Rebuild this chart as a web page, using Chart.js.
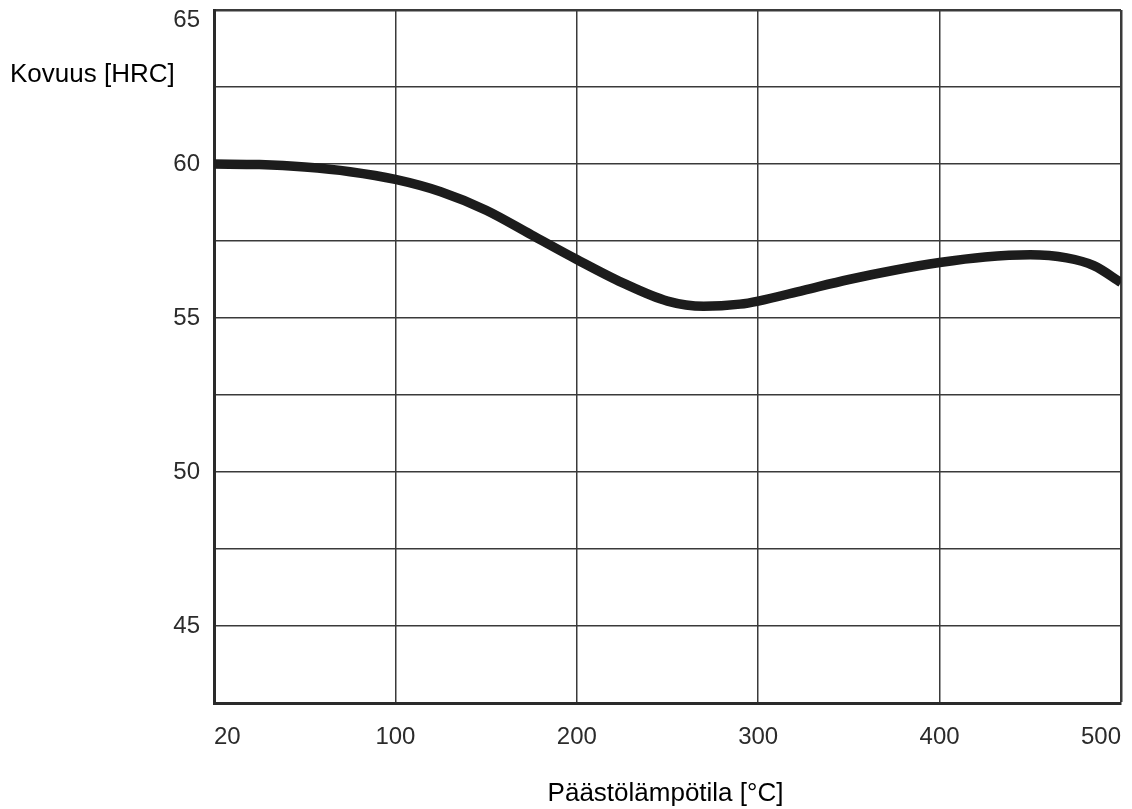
<!DOCTYPE html>
<html>
<head>
<meta charset="utf-8">
<title>Kovuus vs päästölämpötila</title>
<script src="https://cdn.jsdelivr.net/npm/chart.js@4/dist/chart.umd.min.js"></script>
<style>
  html, body { margin: 0; padding: 0; background: #ffffff; }
  #wrap { width: 1132px; height: 809px; position: relative; }
</style>
</head>
<body>
<div id="wrap"><canvas id="c" width="1132" height="809"></canvas></div>
<script>
// Axis position (0 is the left edge of the grid, labelled "20")
const temperatures = [0, 25, 50, 75, 100, 125, 150, 175, 200, 225, 250, 270, 290, 300, 325, 350, 375, 400, 425, 450, 470, 485, 500];
// Hardness, HRC
const hardness = [60.0, 59.98, 59.9, 59.75, 59.5, 59.1, 58.5, 57.7, 56.9, 56.15, 55.55, 55.38, 55.45, 55.55, 55.9, 56.25, 56.55, 56.8, 56.98, 57.05, 56.95, 56.7, 56.15];
// Tick labels
const xTickValues = [0, 100, 200, 300, 400, 500];
const xTickLabels = ["20", "100", "200", "300", "400", "500"];
const yTickLabels = ["45", "50", "55", "60", "65"];
const yTitle = "Kovuus [HRC]";
const xTitle = "Päästölämpötila [°C]";

const points = temperatures.map((t, i) => ({ x: t, y: hardness[i] }));

const bgAndTitles = {
  id: 'bgAndTitles',
  beforeDraw(chart) {
    const ctx = chart.ctx;
    ctx.save();
    ctx.fillStyle = '#ffffff';
    ctx.fillRect(0, 0, chart.width, chart.height);
    ctx.restore();
  },
  afterDraw(chart) {
    const ctx = chart.ctx;
    const area = chart.chartArea;
    ctx.save();
    ctx.fillStyle = '#000000';
    ctx.font = '26px "Liberation Sans", Arial, sans-serif';
    ctx.textBaseline = 'alphabetic';
    ctx.textAlign = 'left';
    ctx.fillText(yTitle, 10, 82);
    ctx.textAlign = 'center';
    ctx.fillText(xTitle, (area.left + area.right) / 2 - 2, 801);
    ctx.restore();
  }
};

new Chart(document.getElementById('c'), {
  type: 'line',
  data: {
    datasets: [{
      data: points,
      borderColor: '#1c1c1c',
      borderWidth: 9.5,
      pointRadius: 0,
      fill: false,
      cubicInterpolationMode: 'monotone',
      borderCapStyle: 'butt'
    }]
  },
  options: {
    responsive: false,
    animation: false,
    layout: { padding: { left: 0, top: 10, right: 11, bottom: 0 } },
    plugins: { legend: { display: false }, tooltip: { enabled: false }, title: { display: false } },
    scales: {
      x: {
        type: 'linear',
        min: 0,
        max: 500,
        afterBuildTicks(scale) {
          scale.ticks = xTickValues.map(v => ({ value: v }));
        },
        afterFit(scale) {
          scale.height = 106;
          scale.paddingLeft = 0;
          scale.paddingRight = 0;
        },
        grid: {
          color: '#3a3a3a',
          lineWidth: (c) => (c.index === xTickValues.length - 1 ? 2.5 : 1.5),
          drawTicks: false
        },
        border: { display: true, color: '#2a2a2a', width: 3 },
        ticks: {
          align: 'inner',
          maxRotation: 0,
          padding: 20,
          color: '#2b2b2b',
          font: { family: '"Liberation Sans", Arial, sans-serif', size: 24 },
          callback: (v) => {
            const i = xTickValues.indexOf(v);
            return i >= 0 ? xTickLabels[i] : '';
          }
        }
      },
      y: {
        type: 'linear',
        min: 42.5,
        max: 65,
        afterFit(scale) {
          scale.width = 214;
          scale.paddingTop = 0;
          scale.paddingBottom = 0;
        },
        grid: {
          color: '#3a3a3a',
          lineWidth: (c) => (c.tick && c.tick.value === 65 ? 2.5 : 1.5),
          drawTicks: false
        },
        border: { display: true, color: '#2a2a2a', width: 3 },
        ticks: {
          stepSize: 2.5,
          padding: 14,
          color: '#2b2b2b',
          font: { family: '"Liberation Sans", Arial, sans-serif', size: 24, lineHeight: 0.85 },
          callback: (v) => {
            const s = String(v);
            if (yTickLabels.indexOf(s) < 0) return '';
            // the top label sits just below the top edge of the grid
            return v === 65 ? ['', s] : s;
          }
        }
      }
    }
  },
  plugins: [bgAndTitles]
});
</script>
</body>
</html>
